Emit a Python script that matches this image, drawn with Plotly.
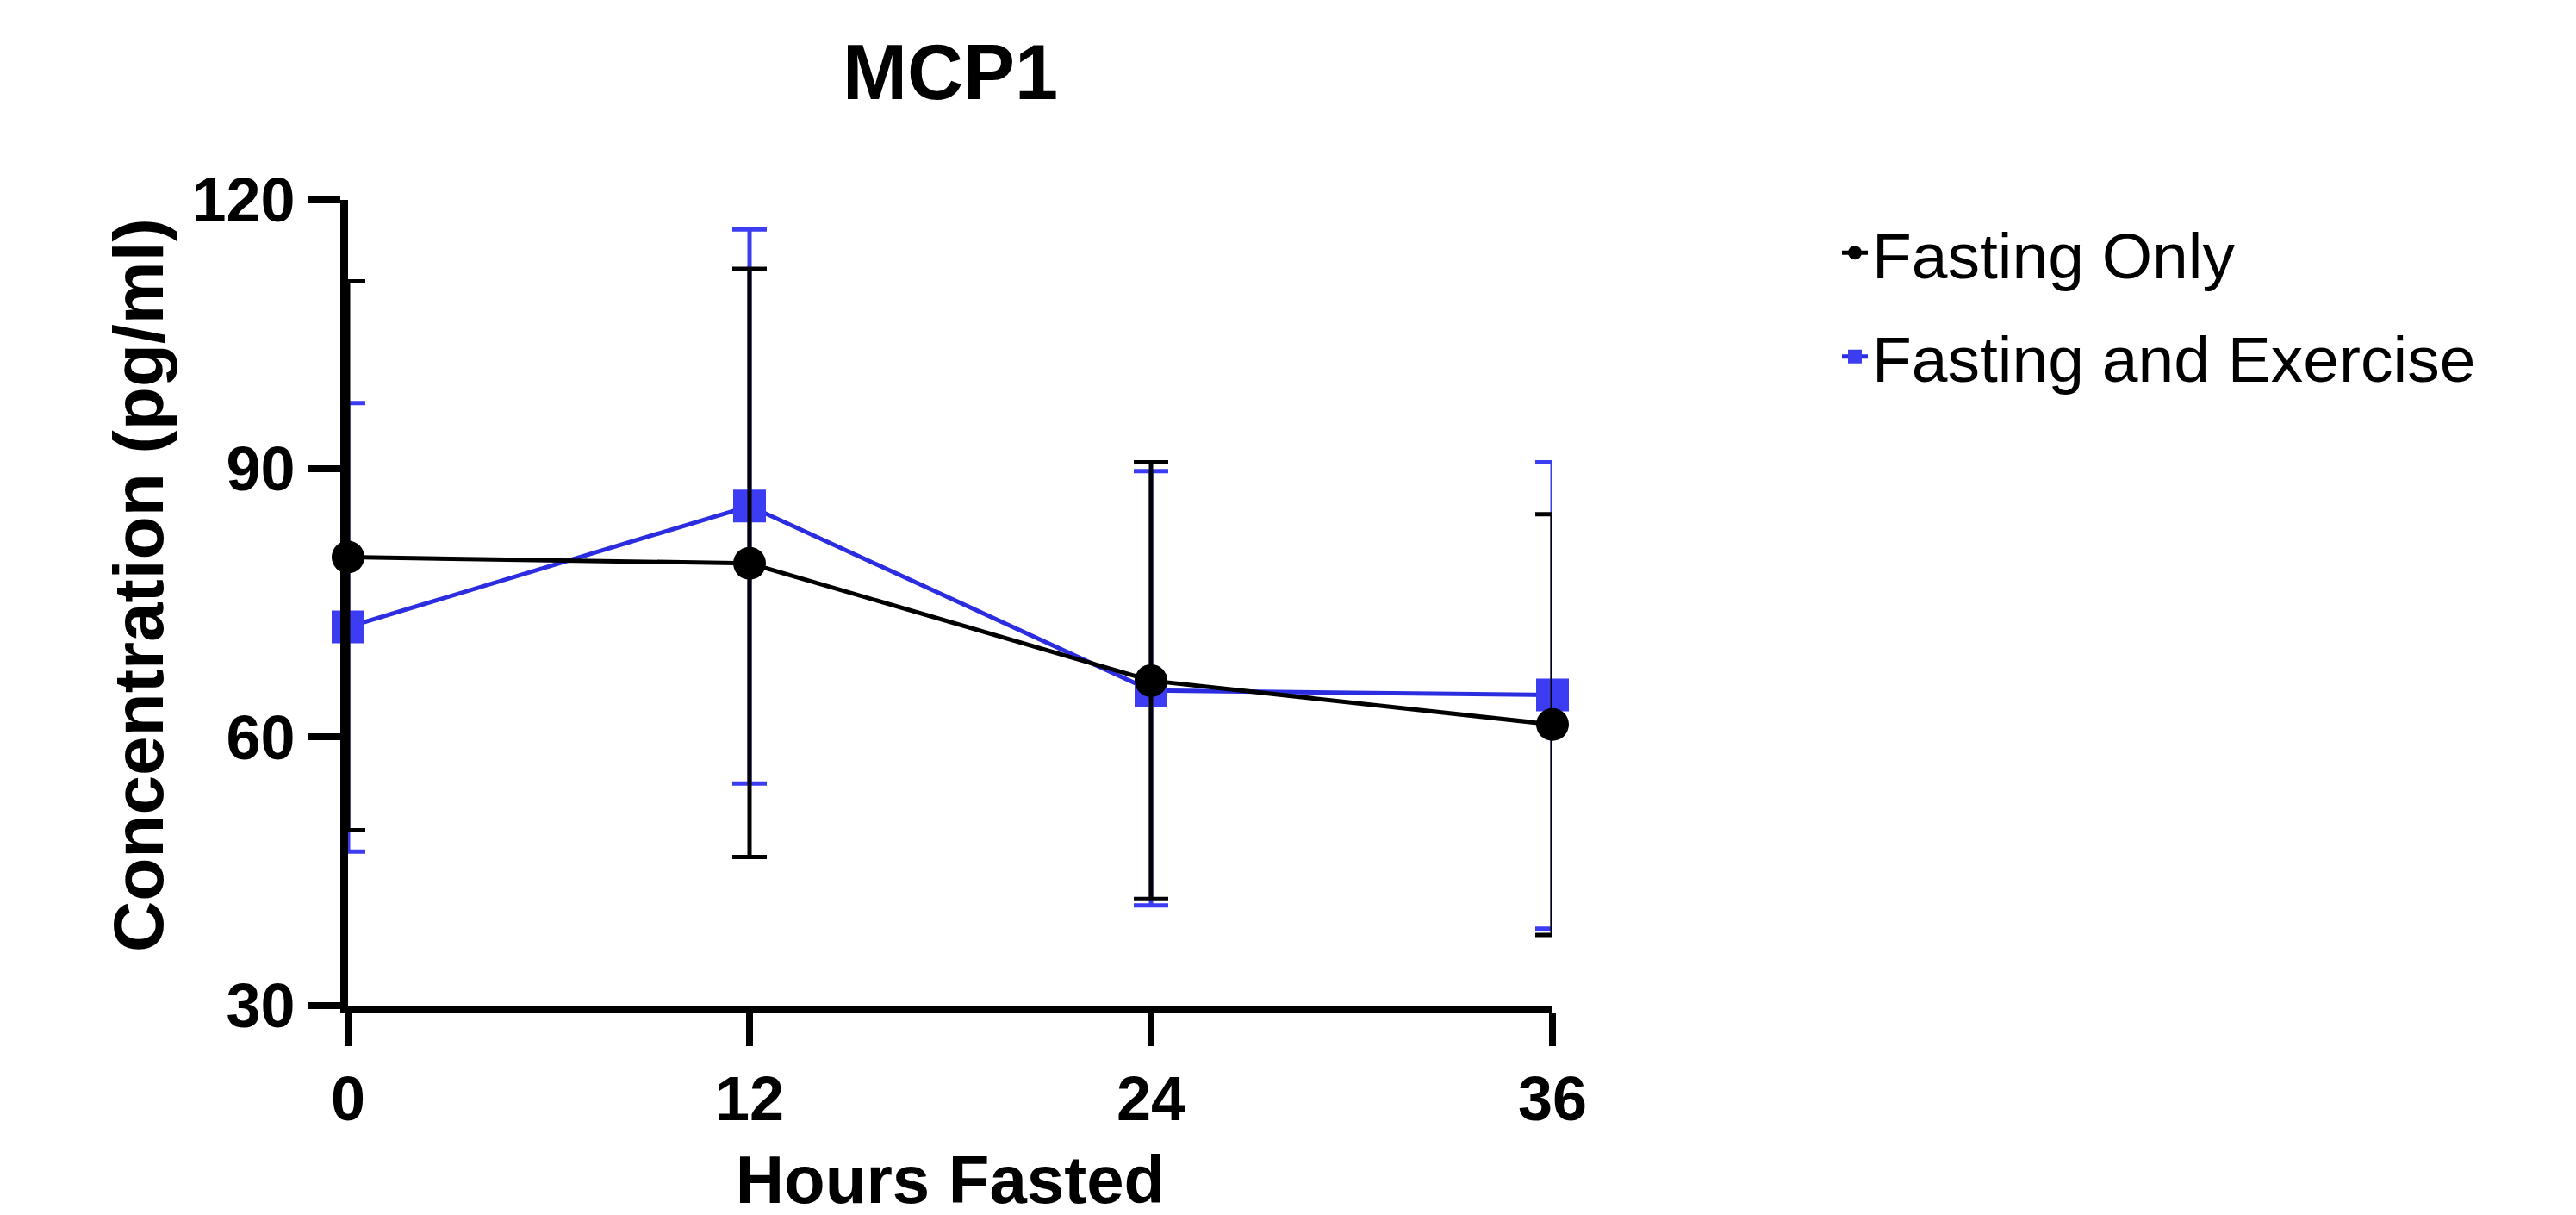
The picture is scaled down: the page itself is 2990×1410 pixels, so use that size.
import plotly.graph_objects as go

hours = [0, 12, 24, 36]
x_ticks = [0, 12, 24, 36]
y_ticks = [30, 60, 90, 120]

fasting_only_mean = [80.1, 79.4, 66.3, 61.4]
fasting_only_upper = [110.9, 112.3, 90.7, 84.9]
fasting_only_lower = [49.6, 46.6, 41.9, 37.9]

fast_ex_mean = [72.3, 85.8, 65.2, 64.7]
fast_ex_upper = [97.3, 116.7, 89.7, 90.7]
fast_ex_lower = [47.2, 54.8, 41.2, 38.6]

FONT = "Liberation Sans, Arial, Helvetica, sans-serif"
BLUE_M = "#3c3cf2"
BLUE_L = "#2c2ce0"

def err(mean, up, lo):
    return ([u - m for u, m in zip(up, mean)], [m - l for m, l in zip(mean, lo)])

bu, bl = err(fast_ex_mean, fast_ex_upper, fast_ex_lower)
ku, kl = err(fasting_only_mean, fasting_only_upper, fasting_only_lower)

fig = go.Figure()
fig.add_trace(go.Scatter(
    x=hours, y=fast_ex_mean, name="Fasting and Exercise", mode="lines+markers",
    line=dict(color=BLUE_L, width=5),
    marker=dict(symbol="square", size=38, color=BLUE_M),
    error_y=dict(type="data", symmetric=False, array=bu, arrayminus=bl,
                 color=BLUE_M, thickness=5, width=20),
    cliponaxis=False, legendrank=2, legendgroup="b",
))
fig.add_trace(go.Scatter(
    x=hours, y=fasting_only_mean, name="Fasting Only", mode="lines+markers",
    line=dict(color="black", width=5),
    marker=dict(symbol="circle", size=38, color="black"),
    error_y=dict(type="data", symmetric=False, array=ku, arrayminus=kl,
                 color="black", thickness=5, width=20),
    cliponaxis=False, legendrank=1, legendgroup="a",
))

W, H = 2990, 1410
PW, PH = 1398, 935
L, T = 396, 224
R, B = W - L - PW, H - T - PH

fig.update_layout(
    width=W, height=H,
    margin=dict(l=L, r=R, t=T, b=B, pad=0, autoexpand=False),
    plot_bgcolor="white", paper_bgcolor="white",
    font=dict(family=FONT, color="black"),
    title=dict(text="MCP1", x=0.5, xref="paper", xanchor="center",
               y=1 - 75 / H, yref="container", yanchor="middle",
               font=dict(size=90, weight="bold", family=FONT, color="black")),
    xaxis=dict(range=[0, 36], tickvals=x_ticks, ticktext=[str(v) for v in x_ticks],
               showgrid=False, zeroline=False, showline=True, linecolor="black", linewidth=9,
               ticks="outside", ticklen=38, tickwidth=8, tickcolor="black",
               tickfont=dict(size=72, weight="bold", family=FONT),
               title=dict(text="Hours Fasted", font=dict(size=78, weight="bold", family=FONT), standoff=30)),
    yaxis=dict(range=[30, 120], tickvals=y_ticks, ticktext=[str(v) for v in y_ticks],
               showgrid=False, zeroline=False, showline=True, linecolor="black", linewidth=9,
               ticks="outside", ticklen=38, tickwidth=8, tickcolor="black",
               tickfont=dict(size=72, weight="bold", family=FONT)),
    annotations=[dict(text="Concentration (pg/ml)", textangle=-90, showarrow=False,
                      xref="paper", yref="paper",
                      x=(152 - L) / PW, y=1 - (671 - T) / PH,
                      xanchor="center", yanchor="middle",
                      font=dict(size=82, weight="bold", family=FONT, color="black"))],
    legend=dict(x=(2125 - L) / PW, xanchor="left",
                y=1 - (230 - T) / PH, yanchor="top",
                font=dict(size=75, family=FONT, color="black"),
                traceorder="grouped", tracegroupgap=20, itemsizing="trace",
                bgcolor="rgba(0,0,0,0)"),
)

fig.write_html("out.html")
